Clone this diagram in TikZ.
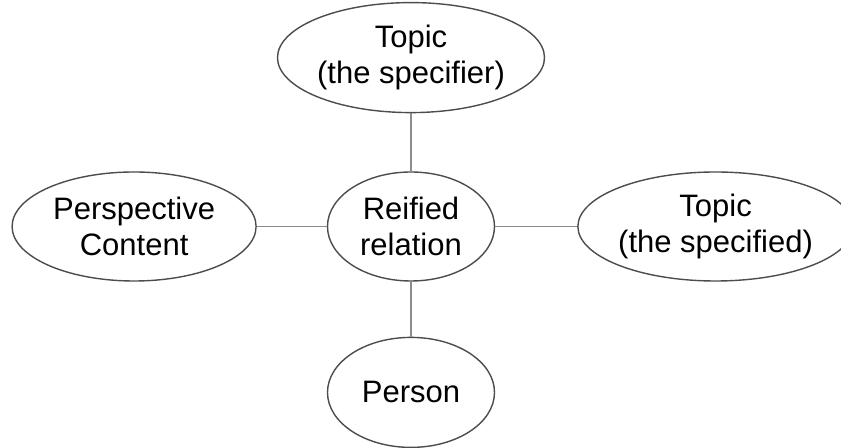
\documentclass[tikz,border=0pt]{standalone}
\usepackage{fontspec}
\setmainfont{Liberation Sans}
\usetikzlibrary{positioning,shapes.geometric}

\begin{document}
\begin{tikzpicture}[
    bubble/.style = {ellipse, draw = black!70, line width = 0.7pt,
                     inner sep = 0pt, minimum height = 54.5pt, align = center,
                     font = \fontsize{15.5}{18}\selectfont},
    link/.style = {draw = black!45, line width = 0.6pt}]
  \clip (-205.5pt,113.25pt) rectangle (215pt,-110.75pt);

  \node[bubble, minimum width = 83.5pt] (rel) at (0,0) {Reified\\relation};
  \node[bubble, minimum width = 133.5pt, minimum height = 55pt,
        above = 29pt of rel] (specifier) {Topic\\(the specifier)};
  \node[bubble, minimum width = 122pt, left = 35pt of rel] (content) {Perspective\\Content};
  \node[bubble, minimum width = 137pt, right = 41pt of rel] (specified) {Topic\\(the specified)};
  \node[bubble, minimum width = 83.5pt, minimum height = 55pt,
        below = 27.5pt of rel] (person) {Person};

  \draw[link] (specifier) -- (rel);
  \draw[link] (content) -- (rel);
  \draw[link] (rel) -- (specified);
  \draw[link] (rel) -- (person);
\end{tikzpicture}
\end{document}
